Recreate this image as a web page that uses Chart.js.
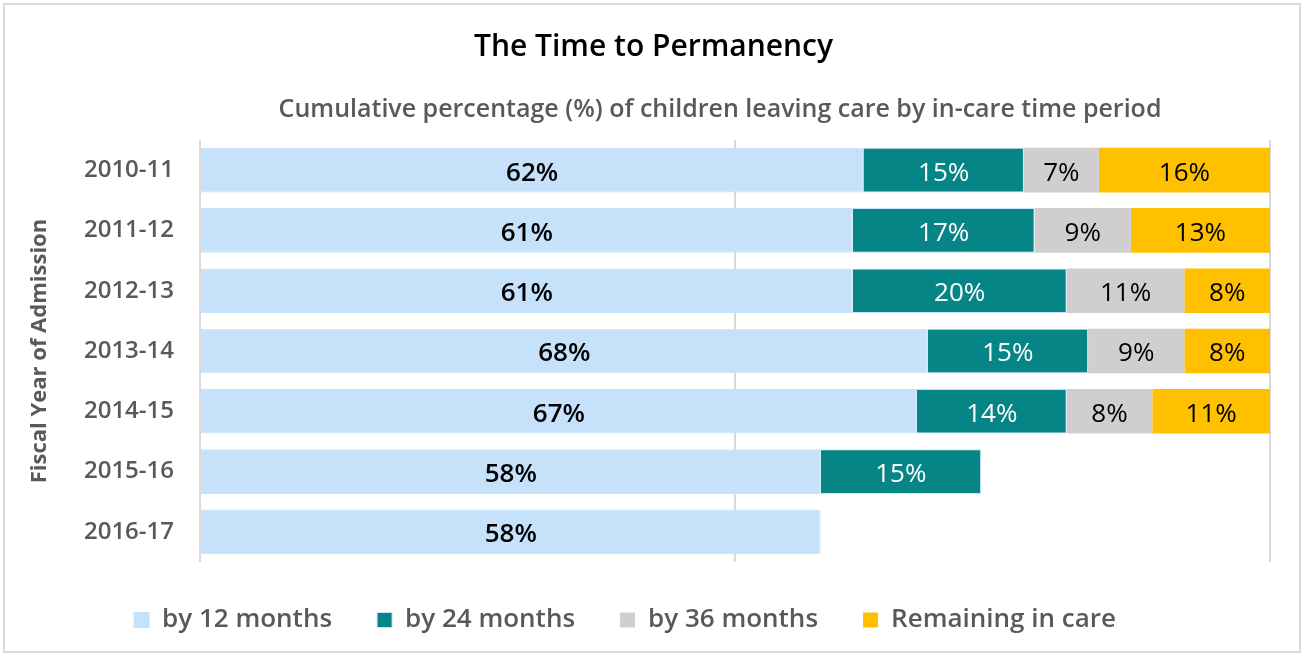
<!DOCTYPE html>
<html>
<head>
<meta charset="utf-8">
<script src="https://cdn.jsdelivr.net/npm/chart.js@4"></script>
<style>
  html, body { margin: 0; padding: 0; background: #fff; }
  #wrap { position: relative; width: 1307px; height: 657px; }
  #frame { position: absolute; left: 3px; top: 3px; width: 1294px; height: 646px; border: 2px solid #d9d9d9; pointer-events: none; }
</style>
</head>
<body>
<div id="wrap">
  <canvas id="myChart" width="1307" height="657"></canvas>
  <div id="frame"></div>
</div>
<script>
// data
const years = ['2010-11', '2011-12', '2012-13', '2013-14', '2014-15', '2015-16', '2016-17'];
const by12 = [62, 61, 61, 68, 67, 58, 58];
const by24 = [15, 17, 20, 15, 14, 15, null];
const by36 = [7, 9, 11, 9, 8, null, null];
const remaining = [16, 13, 8, 8, 11, null, null];

const FONT = "'Open Sans', 'Noto Sans', sans-serif";
const GREY_TEXT = '#595959';
const SUBTITLE = 'Cumulative percentage (%) of children leaving care by in-care time period';

// labels in the middle of each bar segment, plus the subtitle over the plot
const barLabels = {
    id: 'barLabels',
    afterLayout(chart) {
        // Excel centres the legend a bit left of the plot, and the title on the page
        chart.legend.left -= 20;
        chart.legend.right -= 20;
        chart.titleBlock.left = 0;
        chart.titleBlock.right = chart.width;
    },
    afterDraw(chart) {
        const ctx = chart.ctx;
        const area = chart.chartArea;
        ctx.save();
        ctx.font = '600 25px ' + FONT;
        ctx.fillStyle = GREY_TEXT;
        ctx.textAlign = 'center';
        ctx.textBaseline = 'middle';
        ctx.fillText(SUBTITLE, (area.left + area.right) / 2 - 15, 110);
        ctx.restore();
    },
    afterDatasetsDraw(chart) {
        const ctx = chart.ctx;
        ctx.save();
        ctx.textAlign = 'center';
        ctx.textBaseline = 'middle';
        chart.data.datasets.forEach((ds, i) => {
            const meta = chart.getDatasetMeta(i);
            ctx.font = (i === 0 ? '600 ' : '') + '26px ' + FONT;
            meta.data.forEach((bar, j) => {
                const v = ds.data[j];
                if (v === null || v === undefined) return;
                ctx.fillStyle = ds.labelColor;
                ctx.fillText(v + '%', (bar.x + bar.base) / 2, bar.y + 3);
            });
        });
        ctx.restore();
    }
};

const ctx = document.getElementById('myChart').getContext('2d');
const myChart = new Chart(ctx, {
    type: 'bar',
    data: {
        labels: years,
        datasets: [
            { label: 'by 12 months', data: by12, backgroundColor: '#C6E2FA', borderColor: '#C6E2FA', borderWidth: 1, labelColor: '#000' },
            { label: 'by 24 months', data: by24, backgroundColor: '#068587', borderColor: '#C6E2FA', borderWidth: 1, labelColor: '#fff' },
            { label: 'by 36 months', data: by36, backgroundColor: '#D0CECE', borderWidth: 0, labelColor: '#000' },
            { label: 'Remaining in care', data: remaining, backgroundColor: '#FFC000', borderWidth: 0, labelColor: '#000' }
        ]
    },
    options: {
        indexAxis: 'y',
        responsive: false,
        animation: false,
        layout: { padding: { left: 20, right: 37, bottom: 14 } },
        datasets: { bar: { barPercentage: 0.74, categoryPercentage: 1 } },
        scales: {
            x: {
                stacked: true,
                min: 0,
                max: 100,
                ticks: { display: false, stepSize: 50 },
                grid: { color: '#d9d9d9', lineWidth: 2, drawTicks: false },
                border: { display: false }
            },
            y: {
                stacked: true,
                grid: { display: false },
                border: { display: false },
                ticks: { color: GREY_TEXT, font: { family: FONT, size: 24, weight: '600' }, padding: 18 },
                title: { display: true, text: 'Fiscal Year of Admission', color: GREY_TEXT, font: { family: FONT, size: 22, weight: 'bold' }, padding: { top: 7, bottom: 10 } },
                afterFit(scale) { scale.width = 180; }
            }
        },
        plugins: {
            title: {
                display: true,
                text: 'The Time to Permanency',
                color: '#000',
                font: { family: FONT, size: 30, weight: '600' },
                padding: { top: 29, bottom: 75 }
            },
            legend: {
                position: 'bottom',
                labels: {
                    color: GREY_TEXT,
                    font: { family: FONT, size: 26, weight: '600' },
                    boxWidth: 15,
                    boxHeight: 15,
                    padding: 45
                }
            },
            tooltip: { enabled: false }
        }
    },
    plugins: [barLabels]
});
</script>
</body>
</html>
